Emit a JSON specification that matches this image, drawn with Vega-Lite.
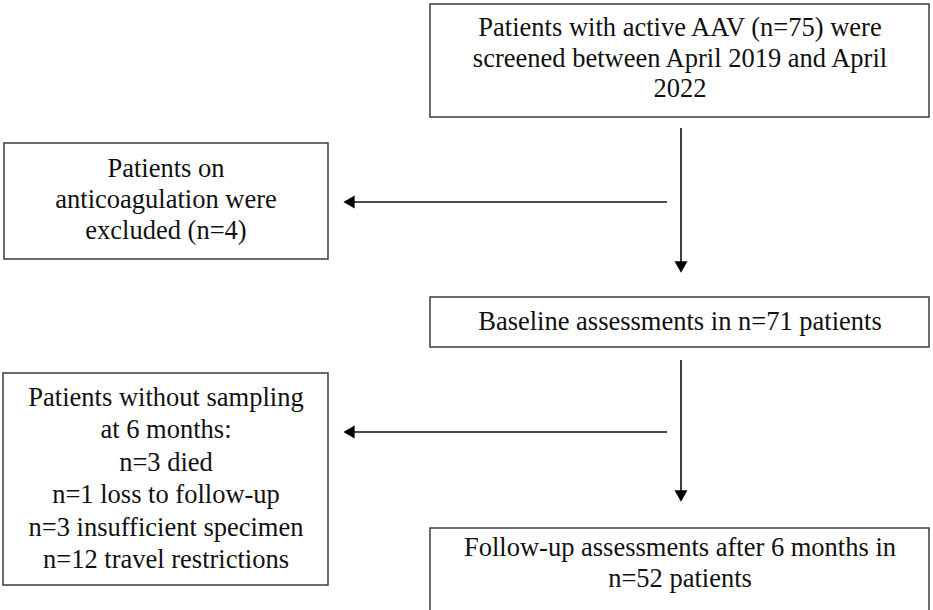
{
  "$schema": "https://vega.github.io/schema/vega-lite/v6.json",
  "width": 933,
  "height": 610,
  "padding": 0,
  "autosize": {"type": "none"},
  "background": "white",
  "config": {"view": {"stroke": null}},
  "datasets": {
    "boxes": [
      {"id": "screen", "x": 430, "x2": 929, "y": 4, "y2": 117, "tx": 680, "ty": 28, "lh": 30.5, "label": "Patients with active AAV (n=75) were|screened between April 2019 and April|2022"},
      {"id": "excl", "x": 4, "x2": 328, "y": 143, "y2": 259, "tx": 166, "ty": 169, "lh": 31, "label": "Patients on|anticoagulation were|excluded (n=4)"},
      {"id": "base", "x": 430, "x2": 929, "y": 297, "y2": 347, "tx": 680, "ty": 322, "lh": 30.5, "label": "Baseline assessments in n=71 patients"},
      {"id": "nosamp", "x": 3, "x2": 328, "y": 373, "y2": 585, "tx": 166, "ty": 398, "lh": 32.4, "label": "Patients without sampling|at 6 months:|n=3 died|n=1 loss to follow-up|n=3 insufficient specimen|n=12 travel restrictions"},
      {"id": "follow", "x": 430, "x2": 929, "y": 528, "y2": 616, "tx": 680, "ty": 548, "lh": 31, "label": "Follow-up assessments after 6 months in|n=52 patients"}
    ],
    "lines": [
      {"x": 681, "x2": 681, "y": 128, "y2": 263},
      {"x": 667, "x2": 349, "y": 202, "y2": 202},
      {"x": 681, "x2": 681, "y": 360, "y2": 492},
      {"x": 667, "x2": 349, "y": 432, "y2": 432}
    ],
    "heads": [
      {"x": 681, "y": 267, "shape": "triangle-down"},
      {"x": 349, "y": 202, "shape": "triangle-left"},
      {"x": 681, "y": 496, "shape": "triangle-down"},
      {"x": 349, "y": 432, "shape": "triangle-left"}
    ]
  },
  "layer": [
    {
      "data": {"name": "boxes"},
      "mark": {"type": "rect", "fill": "white", "stroke": "#3c3c3c", "strokeWidth": 1.5},
      "encoding": {
        "x": {"field": "x", "type": "quantitative", "scale": {"domain": [0, 933], "nice": false, "zero": false}, "axis": null},
        "x2": {"field": "x2"},
        "y": {"field": "y", "type": "quantitative", "scale": {"domain": [0, 610], "nice": false, "zero": false, "reverse": true}, "axis": null},
        "y2": {"field": "y2"}
      }
    },
    {
      "data": {"name": "boxes"},
      "transform": [{"filter": "datum.id == 'screen' || datum.id == 'base'"}],
      "mark": {"type": "text", "font": "Liberation Serif", "fontSize": 26.5, "color": "#111111", "align": "center", "baseline": "middle", "lineBreak": "|", "lineHeight": 30.5},
      "encoding": {
        "x": {"field": "tx", "type": "quantitative"},
        "y": {"field": "ty", "type": "quantitative"},
        "text": {"field": "label"}
      }
    },
    {
      "data": {"name": "boxes"},
      "transform": [{"filter": "datum.id == 'excl' || datum.id == 'follow'"}],
      "mark": {"type": "text", "font": "Liberation Serif", "fontSize": 26.5, "color": "#111111", "align": "center", "baseline": "middle", "lineBreak": "|", "lineHeight": 31},
      "encoding": {
        "x": {"field": "tx", "type": "quantitative"},
        "y": {"field": "ty", "type": "quantitative"},
        "text": {"field": "label"}
      }
    },
    {
      "data": {"name": "boxes"},
      "transform": [{"filter": "datum.id == 'nosamp'"}],
      "mark": {"type": "text", "font": "Liberation Serif", "fontSize": 26.5, "color": "#111111", "align": "center", "baseline": "middle", "lineBreak": "|", "lineHeight": 32.4},
      "encoding": {
        "x": {"field": "tx", "type": "quantitative"},
        "y": {"field": "ty", "type": "quantitative"},
        "text": {"field": "label"}
      }
    },
    {
      "data": {"name": "lines"},
      "mark": {"type": "rule", "color": "#111111", "strokeWidth": 1.6},
      "encoding": {
        "x": {"field": "x", "type": "quantitative"},
        "x2": {"field": "x2"},
        "y": {"field": "y", "type": "quantitative"},
        "y2": {"field": "y2"}
      }
    },
    {
      "data": {"name": "heads"},
      "mark": {"type": "point", "filled": true, "color": "#000000", "size": 170, "opacity": 1},
      "encoding": {
        "x": {"field": "x", "type": "quantitative"},
        "y": {"field": "y", "type": "quantitative"},
        "shape": {"field": "shape", "type": "nominal", "scale": null}
      }
    }
  ]
}
